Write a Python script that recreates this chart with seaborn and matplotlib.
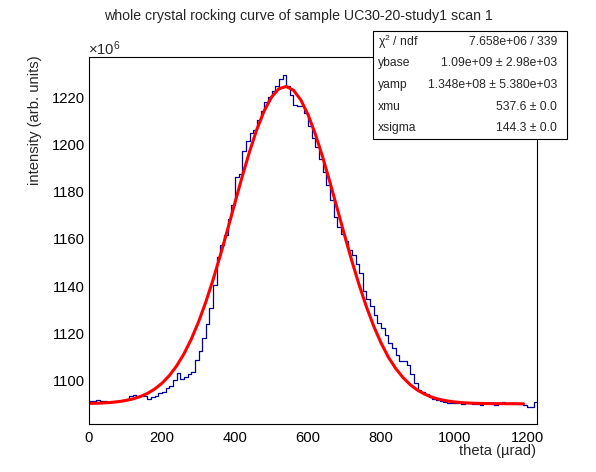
import numpy as np
import pandas as pd
import matplotlib
matplotlib.use("Agg")
import matplotlib.pyplot as plt
from matplotlib.patches import Rectangle
from matplotlib.ticker import MultipleLocator
import seaborn as sns

# ---------------- data (intensity in units of 1e6) ----------------
bin_width = 10
hist_values = [
    1091.0, 1091.3, 1091.4, 1091.2, 1091.3, 1090.9, 1090.8, 1091.0, 1091.1, 1091.6,
    1092.0, 1093.3, 1093.6, 1093.4, 1093.5, 1093.2, 1092.2, 1092.8, 1093.5, 1094.7,
    1095.0, 1096.6, 1097.4, 1100.0, 1103.2, 1100.6, 1101.2, 1102.7, 1103.5, 1108.5,
    1112.5, 1117.8, 1124.0, 1130.5, 1140.5, 1152.5, 1157.5, 1161.7, 1168.5, 1174.5,
    1186.5, 1187.8, 1197.5, 1201.5, 1205.0, 1206.3, 1210.5, 1214.5, 1218.0, 1220.5,
    1223.0, 1225.0, 1228.0, 1229.5, 1225.0, 1221.0, 1217.0, 1216.3, 1216.5, 1213.5,
    1208.0, 1203.0, 1199.0, 1194.0, 1188.5, 1183.0, 1176.5, 1169.5, 1165.0, 1162.0,
    1159.0, 1155.3, 1153.0, 1149.5, 1145.5, 1138.0, 1134.3, 1131.5, 1127.5, 1124.5,
    1122.2, 1119.0, 1116.0, 1113.5, 1110.5, 1108.2, 1108.0, 1106.5, 1102.5, 1099.0,
    1096.0, 1094.8, 1094.0, 1093.0, 1092.0, 1091.6, 1091.2, 1090.8, 1090.5, 1090.3,
    1090.2, 1090.3, 1090.0, 1090.2, 1090.3, 1090.1, 1089.8, 1089.6, 1090.2, 1090.2,
    1090.0, 1089.6, 1090.2, 1090.8, 1090.5, 1090.2, 1090.3, 1090.0, 1089.7, 1089.4,
    1088.8, 1088.6, 1090.8,
]

fit_theta = [
    0, 20, 40, 60, 80, 100, 120, 140, 160, 180, 200, 220, 240, 260, 280, 300,
    320, 340, 360, 380, 400, 420, 440, 460, 480, 500, 520, 540, 560, 580, 600,
    620, 640, 660, 680, 700, 720, 740, 760, 780, 800, 820, 840, 860, 880, 900,
    920, 940, 960, 980, 1000, 1020, 1040, 1060, 1080, 1100, 1120, 1140, 1160,
    1180, 1190,
]
fit_values = [
    1090.13, 1090.22, 1090.35, 1090.56, 1090.88, 1091.36, 1092.05, 1093.03,
    1094.39, 1096.25, 1098.73, 1101.96, 1106.07, 1111.18, 1117.39, 1124.75,
    1133.25, 1142.79, 1153.21, 1164.25, 1175.56, 1186.71, 1197.25, 1206.66,
    1214.48, 1220.30, 1223.80, 1224.78, 1223.19, 1219.10, 1212.77, 1204.52,
    1194.80, 1184.07, 1172.84, 1161.56, 1150.63, 1140.41, 1131.11, 1122.88,
    1115.80, 1109.76, 1105.00, 1101.11, 1098.07, 1095.75, 1094.03, 1092.76,
    1091.86, 1091.23, 1090.79, 1090.50, 1090.31, 1090.19, 1090.12, 1090.07,
    1090.04, 1090.02, 1090.01, 1090.01, 1090.00,
]

stat_labels = ["χ$^{2}$ / ndf", "ybase", "yamp", "xmu", "xsigma"]
stat_values = ["7.658e+06 / 339", "1.09e+09 ± 2.98e+03",
               "1.348e+08 ± 5.380e+03", "537.6 ± 0.0", "144.3 ± 0.0"]

title = "whole crystal rocking curve of sample UC30-20-study1 scan 1"
x_label = "theta (µrad)"
y_label = "intensity (arb. units)"

# ---------------- build tables ----------------
edges = np.arange(len(hist_values) + 1) * bin_width
hist_df = pd.DataFrame({"theta": edges,
                        "intensity": hist_values + [hist_values[-1]]})
fit_df = pd.DataFrame({"theta": fit_theta, "intensity": fit_values})

# ---------------- style ----------------
sns.set_style("white")
plt.rcParams["font.family"] = ["Liberation Sans", "DejaVu Sans"]
plt.rcParams["mathtext.fontset"] = "custom"
plt.rcParams["mathtext.rm"] = "Liberation Sans"
plt.rcParams["mathtext.it"] = "Liberation Sans"
plt.rcParams["axes.linewidth"] = 0.8

W, H = 596, 472
fig = plt.figure(figsize=(W / 100, H / 100), dpi=100)
ax = fig.add_axes([89 / W, (H - 424) / H, 448 / W, 367 / H])

sns.lineplot(data=hist_df, x="theta", y="intensity", ax=ax, color="#000099",
             linewidth=0.9, drawstyle="steps-post", estimator=None, sort=False)
sns.lineplot(data=fit_df, x="theta", y="intensity", ax=ax, color="#ff0000",
             linewidth=2.2, estimator=None, sort=False)

ax.set_xlim(0, 1227)
ax.set_ylim(1081.4, 1237.3)
ax.xaxis.set_major_locator(MultipleLocator(200))
ax.xaxis.set_minor_locator(MultipleLocator(50))
ax.yaxis.set_major_locator(MultipleLocator(20))
ax.yaxis.set_minor_locator(MultipleLocator(5))
for s in ax.spines.values():
    s.set_color("black")
    s.set_linewidth(0.8)
ax.tick_params(axis="both", which="both", direction="in", top=False,
               right=False, colors="black", labelsize=10.6, width=0.8)
ax.tick_params(axis="y", which="major", length=9.5, pad=3)
ax.tick_params(axis="y", which="minor", length=5)
ax.tick_params(axis="x", which="major", length=7.4, pad=5)
ax.tick_params(axis="x", which="minor", length=3.5)
ax.set_xlabel("")
ax.set_ylabel("")

# axis titles (ROOT style, aligned at the axis ends)
fig.text(536 / W, 1 - 451 / H, x_label, ha="right", va="center",
         fontsize=10.6)
fig.text(35.5 / W, 1 - 55 / H, y_label, ha="center", va="top",
         rotation=90, fontsize=10.6)
fig.text(88 / W, 1 - 55 / H, r"$\times10^{6}$", ha="left", va="baseline",
         fontsize=10.6)

# title
fig.text(0.5, 1 - 20 / H, title, ha="center", va="baseline", fontsize=10.15)

# stat box
bx0, bx1, by_top, by_bot = 373, 567, 31, 139
fig.patches.append(Rectangle((bx0 / W, 1 - by_bot / H), (bx1 - bx0) / W,
                             (by_bot - by_top) / H, transform=fig.transFigure,
                             facecolor="white", edgecolor="black",
                             linewidth=0.8, zorder=5))
row_h = (by_bot - by_top) / len(stat_labels)
for i, (lab, val) in enumerate(zip(stat_labels, stat_values)):
    yc = by_top + row_h * (i + 0.5)
    fig.text(378 / W, 1 - yc / H, lab, ha="left", va="center",
             fontsize=8.7, zorder=6)
    fig.text(557 / W, 1 - yc / H, val, ha="right", va="center",
             fontsize=8.7, zorder=6)

fig.savefig("out.png", dpi=100, facecolor="white")
